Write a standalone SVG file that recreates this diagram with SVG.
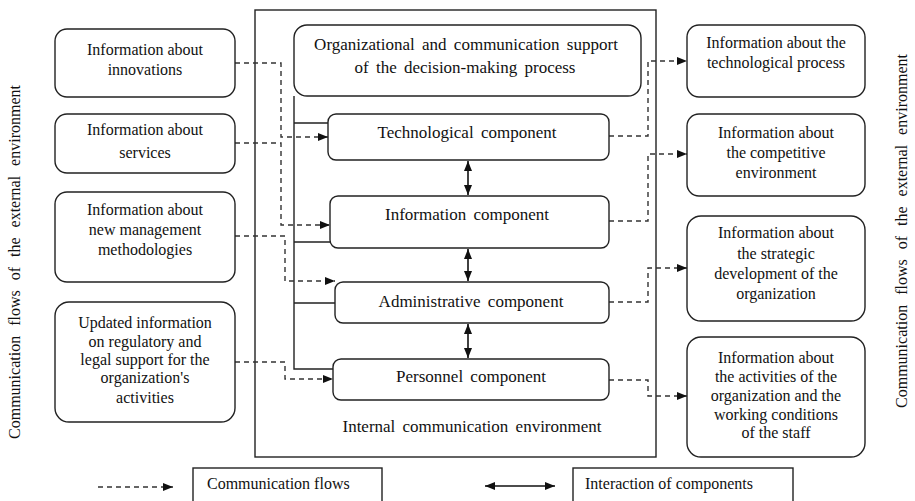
<svg xmlns="http://www.w3.org/2000/svg" width="915" height="501" viewBox="0 0 915 501">
  <style>
    .box { fill: #fff; stroke: #222; stroke-width: 1.4; }
    .frame { fill: none; stroke: #222; stroke-width: 1.4; }
    .t { font-family: "Liberation Serif", "Times New Roman", serif; font-size: 16px; fill: #111; text-anchor: middle; }
    .tl { font-family: "Liberation Serif", "Times New Roman", serif; font-size: 16px; fill: #111; }
    .big { font-size: 17px; word-spacing: 3px; }
    .side { font-family: "Liberation Serif", "Times New Roman", serif; font-size: 16px; fill: #111; text-anchor: middle; word-spacing: 6px; }
    .solid { fill: none; stroke: #222; stroke-width: 1.4; }
    .flow { fill: none; stroke: #333; stroke-width: 1.4; stroke-dasharray: 5 4; }
    .link { fill: none; stroke: #111; stroke-width: 1.6; }
  </style>
  <defs>
    <marker id="head" viewBox="0 0 10 8" refX="10" refY="4" markerWidth="10" markerHeight="8" markerUnits="userSpaceOnUse" orient="auto-start-reverse">
      <path d="M0,0 L10,4 L0,8 z" fill="#111"/>
    </marker>
  </defs>

  <rect fill="#fff" x="0" y="0" width="915" height="501"/>

  <!-- side captions -->
  <text class="side" transform="translate(20,262) rotate(-90)">Communication flows of the external environment</text>
  <text class="side" transform="translate(907,231) rotate(-90)">Communication flows of the external environment</text>

  <!-- internal communication environment frame -->
  <g id="internal-environment">
    <rect class="frame" x="255" y="10" width="401" height="447"/>
    <text class="t big" x="472" y="432">Internal communication environment</text>
  </g>

  <!-- connectors -->
  <g id="connectors">
    <!-- solid bus from the support block to each component -->
    <path class="solid" d="M294,96 V369 H333 M294,123 H328 M294,242 H330 M294,303 H335"/>

    <!-- incoming external flows -->
    <path class="flow" d="M235,63 H281 V137 H328" marker-end="url(#head)"/>
    <path class="flow" d="M235,143 H281 V225 H330" marker-end="url(#head)"/>
    <path class="flow" d="M235,236 H285 V281 H335" marker-end="url(#head)"/>
    <path class="flow" d="M235,362 H285 V379 H333" marker-end="url(#head)"/>

    <!-- outgoing external flows -->
    <path class="flow" d="M609,136 H648 V61 H687" marker-end="url(#head)"/>
    <path class="flow" d="M609,221 H648 V154 H687" marker-end="url(#head)"/>
    <path class="flow" d="M609,302 H648 V268 H687" marker-end="url(#head)"/>
    <path class="flow" d="M609,380 H648 V396 H687" marker-end="url(#head)"/>

    <!-- interaction between components -->
    <path class="link" d="M468,161 V195" marker-start="url(#head)" marker-end="url(#head)"/>
    <path class="link" d="M468,249 V281" marker-start="url(#head)" marker-end="url(#head)"/>
    <path class="link" d="M468,324 V358" marker-start="url(#head)" marker-end="url(#head)"/>
  </g>

  <!-- internal blocks -->
  <g id="support">
    <rect class="box" x="294" y="25" width="347" height="71" rx="13"/>
    <text class="t big" x="466" y="50">Organizational and communication support</text>
    <text class="t big" x="465" y="73">of the decision-making process</text>
  </g>
  <g id="technological">
    <rect class="box" x="328" y="114" width="281" height="46" rx="8"/>
    <text class="t big" x="467" y="138">Technological component</text>
  </g>
  <g id="information">
    <rect class="box" x="330" y="196" width="279" height="52" rx="8"/>
    <text class="t big" x="467" y="220">Information component</text>
  </g>
  <g id="administrative">
    <rect class="box" x="335" y="282" width="274" height="41" rx="8"/>
    <text class="t big" x="471" y="307">Administrative component</text>
  </g>
  <g id="personnel">
    <rect class="box" x="333" y="359" width="276" height="41" rx="8"/>
    <text class="t big" x="471" y="382">Personnel component</text>
  </g>

  <!-- external sources -->
  <g id="innovations">
    <rect class="box" x="55" y="29" width="180" height="68" rx="12"/>
    <text class="t" x="145" y="55">Information about</text>
    <text class="t" x="145" y="75">innovations</text>
  </g>
  <g id="services">
    <rect class="box" x="55" y="114" width="180" height="59" rx="12"/>
    <text class="t" x="145" y="135">Information about</text>
    <text class="t" x="145" y="158">services</text>
  </g>
  <g id="methodologies">
    <rect class="box" x="55" y="192" width="180" height="90" rx="12"/>
    <text class="t" x="145" y="215">Information about</text>
    <text class="t" x="145" y="235">new management</text>
    <text class="t" x="145" y="255">methodologies</text>
  </g>
  <g id="regulatory">
    <rect class="box" x="55" y="302" width="180" height="120" rx="14"/>
    <text class="t" x="145" y="328">Updated information</text>
    <text class="t" x="145" y="347">on regulatory and</text>
    <text class="t" x="145" y="365">legal support for the</text>
    <text class="t" x="145" y="383">organization's</text>
    <text class="t" x="145" y="403">activities</text>
  </g>

  <!-- external recipients -->
  <g id="tech-process">
    <rect class="box" x="687" y="25" width="178" height="72" rx="12"/>
    <text class="t" x="776" y="48">Information about the</text>
    <text class="t" x="776" y="68">technological process</text>
  </g>
  <g id="competitive">
    <rect class="box" x="687" y="114" width="178" height="82" rx="12"/>
    <text class="t" x="776" y="138">Information about</text>
    <text class="t" x="776" y="158">the competitive</text>
    <text class="t" x="776" y="178">environment</text>
  </g>
  <g id="strategic">
    <rect class="box" x="687" y="216" width="178" height="105" rx="14"/>
    <text class="t" x="776" y="238">Information about</text>
    <text class="t" x="776" y="259">the strategic</text>
    <text class="t" x="776" y="279">development of the</text>
    <text class="t" x="776" y="299">organization</text>
  </g>
  <g id="activities">
    <rect class="box" x="687" y="337" width="178" height="120" rx="14"/>
    <text class="t" x="776" y="363">Information about</text>
    <text class="t" x="776" y="382">the activities of the</text>
    <text class="t" x="776" y="401">organization and the</text>
    <text class="t" x="776" y="420">working conditions</text>
    <text class="t" x="776" y="438">of the staff</text>
  </g>

  <!-- legend -->
  <g id="legend">
    <path class="flow" d="M98,487 H173" marker-end="url(#head)"/>
    <rect class="box" x="193" y="468" width="189" height="45"/>
    <text class="tl" x="207" y="489">Communication flows</text>
    <path class="link" d="M485,486 H555" marker-start="url(#head)" marker-end="url(#head)"/>
    <rect class="box" x="573" y="468" width="220" height="45"/>
    <text class="tl" x="585" y="489">Interaction of components</text>
  </g>
</svg>
